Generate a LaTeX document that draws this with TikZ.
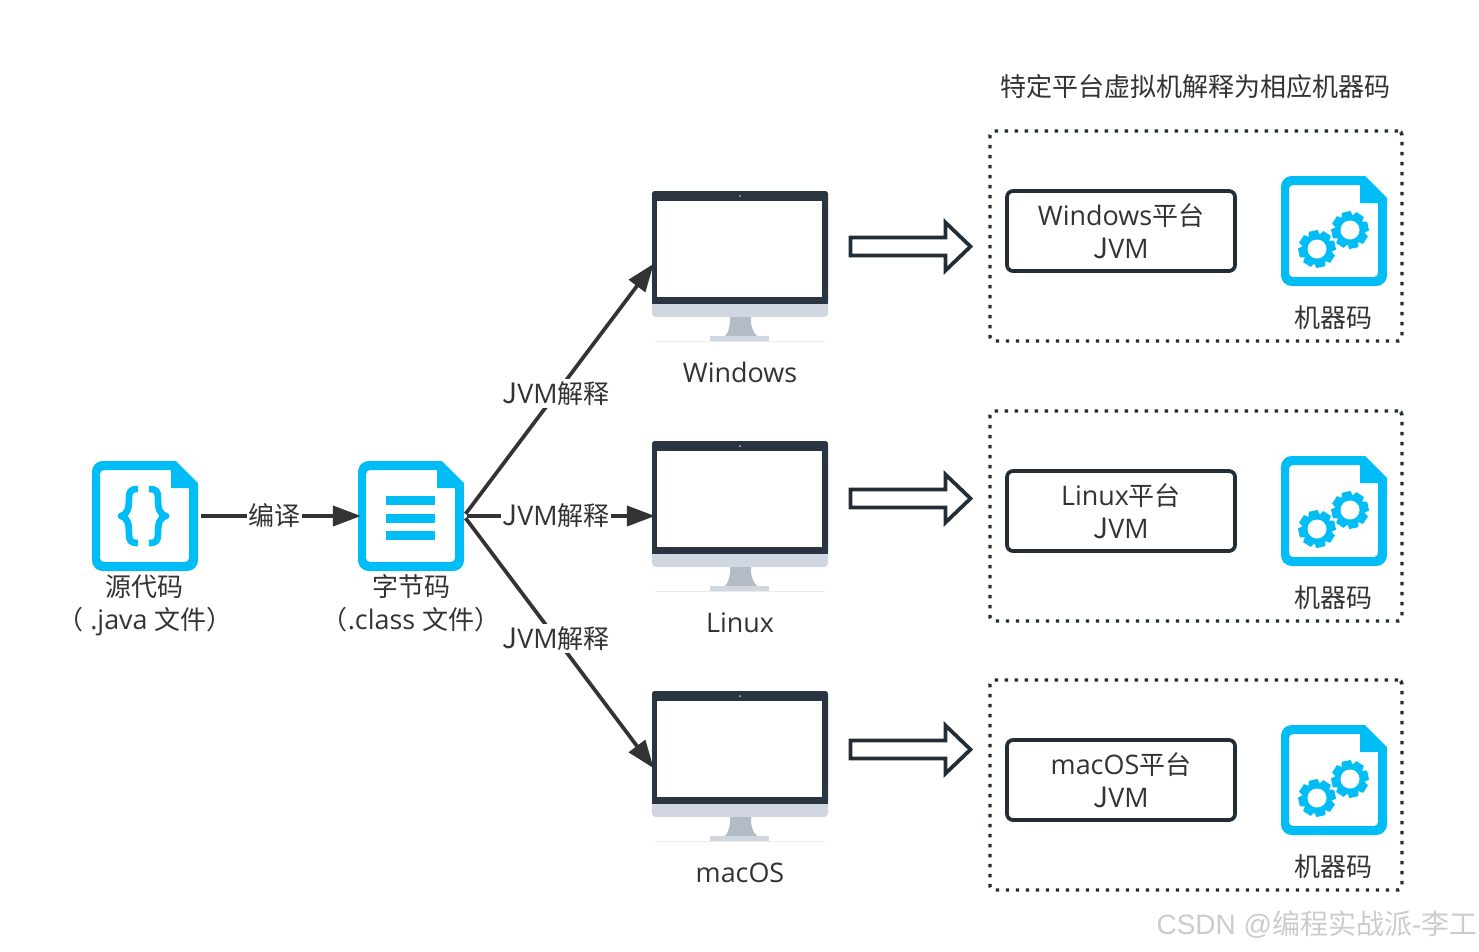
\documentclass[tikz,border=0pt]{standalone}
\usepackage{fontspec}
\usetikzlibrary{arrows.meta}
\setmainfont[Scale=1.035]{Open Sans}
\newfontfamily\cjkfont{Noto Sans CJK SC}
\newfontfamily\markfont{Liberation Sans}
\newcommand{\zh}[1]{{\cjkfont #1}}
\newcommand{\jvm}{{\cjkfont\fontsize{21}{24.75}\selectfont J}VM}
\definecolor{iconblue}{HTML}{00BEF5}
\definecolor{inkdark}{HTML}{333333}
\definecolor{framedark}{HTML}{2B3441}
\definecolor{chinpale}{HTML}{D0D7E0}
\definecolor{standgrey}{HTML}{B3BCC4}
\definecolor{outline}{HTML}{232D36}
\tikzset{
  x=0.75pt, y=-0.75pt,
  label text/.style={text=inkdark, align=center, inner sep=0pt,
    font=\fontsize{19.5}{24.75}\selectfont},
  gap label/.style={label text, fill=white, inner xsep=1pt, inner ysep=2pt},
  icon slot/.style={minimum width=79.5pt, minimum height=82.5pt, inner sep=0pt, outer sep=0pt},
  monitor slot/.style={minimum width=132pt, minimum height=112.5pt, inner sep=0pt, outer sep=0pt},
  vm box/.style={label text, draw=outline, line width=2.8pt, rounded corners=4.5pt,
    minimum width=171pt, minimum height=60pt, fill=white},
  platform box/.style={draw=outline, line width=2.6pt, dash pattern=on 2.6pt off 4.9pt,
    rounded corners=3pt, minimum width=309pt, minimum height=157.5pt, inner sep=0pt},
  flow/.style={draw=inkdark, line width=2.8pt, shorten >=-2.2pt,
    -{Triangle[length=21pt,width=15pt]}},
  hollow arrow/.style={draw=outline, line width=2.8pt, fill=white, miter limit=10},
}
% document outline with folded corner, centred on the given point
\newcommand{\docshell}[2]{%
  \begin{scope}[shift={(#1,#2)}]
    \fill[iconblue, even odd rule]
      (31,-55) -- (53,-33) [rounded corners=8pt] -- (53,55) -- (-53,55) -- (-53,-55) [sharp corners] -- cycle
      (26,-46) -- (26,-28) -- (44,-28) [rounded corners=3pt] -- (44,46) -- (-45,46) -- (-45,-46) [sharp corners] -- cycle;
  \end{scope}}
% one cog wheel
\newcommand{\cog}[2]{%
  \begin{scope}[shift={(#1,#2)}]
    \foreach \a in {0,45,...,315} {
      \fill[iconblue, rotate=\a+12] (-4.5,-18.5) -- (4.5,-18.5) -- (6,-12) -- (-6,-12) -- cycle;
    }
    \fill[iconblue] (0,0) circle[radius=14.5];
    \fill[white] (0,0) circle[radius=9.5];
  \end{scope}}
% document holding two cog wheels
\newcommand{\machinefile}[2]{%
  \docshell{#1}{#2}
  \begin{scope}[shift={(#1,#2)}]
    \cog{-17}{18}
    \cog{16}{-1}
  \end{scope}}
% desktop monitor, centred on the given point
\newcommand{\monitor}[2]{%
  \begin{scope}[shift={(#1,#2)}]
    \fill[framedark, rounded corners=2pt] (-88,-75) rectangle (88,38);
    \fill[chinpale, rounded corners=3pt] (-88,30) rectangle (88,51);
    \fill[framedark] (-88,30) rectangle (88,37.5);
    \fill[white] (-83,-65) rectangle (82,31);
    \fill[standgrey] (-10,51) -- (11,51) -- (11,57) .. controls (12,63) and (14,67) .. (17,70)
      -- (-15,70) .. controls (-12,67) and (-11,63) .. (-10,57) -- cycle;
    \fill[chinpale] (-30,70) rectangle (29,75);
    \fill[black!8] (-85,74.5) rectangle (85,75);
    \fill[standgrey] (0,-70) circle[radius=1];
  \end{scope}}
% wide outlined arrow pointing right
\newcommand{\widearrow}[2]{%
  \draw[hollow arrow, shift={(#1,#2)}]
    (0,-9) -- (95,-9) -- (95,-24) -- (120,0) -- (95,24) -- (95,9) -- (0,9) -- cycle;}

\begin{document}
\begin{tikzpicture}
  \useasboundingbox (0,0) rectangle (1479,951);
  \fill[white] (0,0) rectangle (1479,951);

  % source and bytecode
  \node[icon slot] (src) at (145,516) {};
  \node[icon slot] (bytecode) at (411,516) {};
  \docshell{145}{516}
  \docshell{411}{516}
  \draw[iconblue, line width=5pt, line cap=butt, line join=round]
    (138,489) .. controls (130,489) and (129,492) .. (129,498)
    .. controls (129,508) and (128,514) .. (121,516)
    .. controls (128,518) and (129,524) .. (129,534)
    .. controls (129,540) and (130,543) .. (138,543);
  \draw[iconblue, line width=5pt, line cap=butt, line join=round]
    (149,489) .. controls (157,489) and (158,492) .. (158,498)
    .. controls (158,508) and (159,514) .. (166,516)
    .. controls (159,518) and (158,524) .. (158,534)
    .. controls (158,540) and (157,543) .. (149,543);
  \fill[iconblue] (386,496) rectangle (435,505);
  \fill[iconblue] (386,514) rectangle (435,523);
  \fill[iconblue] (386,531) rectangle (435,540);
  \node[label text] (srctext) at (145,605) {\zh{源代码}\\\zh{（} .java \zh{文件）}};
  \node[label text] (bytetext) at (411,603.5) {\zh{字节码}\\\zh{（}.class \zh{文件）}};

  % monitors
  \node[monitor slot] (win) at (740,266) {};
  \node[monitor slot] (lin) at (740,516) {};
  \node[monitor slot] (mac) at (740,766) {};
  \monitor{740}{266}
  \monitor{740}{516}
  \monitor{740}{766}
  \node[label text] (wintext) at (740,372.5) {Windows};
  \node[label text] (lintext) at (740,622.5) {Linux};
  \node[label text] (mactext) at (740,872.5) {macOS};

  % connectors
  \draw[flow, shorten <=2pt] (src.east) -- (bytecode.west)
    node[gap label, pos=0.48] (compile) {\zh{编译}};
  \draw[flow, shorten <=2pt] (bytecode.east) -- (win.west)
    node[gap label, pos=0.49] (jvmA) {\jvm\zh{解释}};
  \draw[flow, shorten <=2pt] (bytecode.east) -- (lin.west)
    node[gap label, pos=0.49] (jvmB) {\jvm\zh{解释}};
  \draw[flow, shorten <=2pt] (bytecode.east) -- (mac.west)
    node[gap label, pos=0.49] (jvmC) {\jvm\zh{解释}};

  % wide arrows
  \widearrow{850.5}{246.5}
  \widearrow{850.5}{498.5}
  \widearrow{850.5}{749.5}

  % platform panels
  \node[label text] (title) at (1195,87) {\zh{特定平台虚拟机解释为相应机器码}};

  \node[platform box] (boxA) at (1196,236) {};
  \node[platform box] (boxB) at (1196,516) {};
  \node[platform box] (boxC) at (1196,785) {};

  \node[vm box] (vmA) at (1121,231) {Windows\zh{平台}\\\jvm};
  \node[vm box] (vmB) at (1121,511) {Linux\zh{平台}\\\jvm};
  \node[vm box] (vmC) at (1121,780) {macOS\zh{平台}\\\jvm};

  \machinefile{1334}{231}
  \machinefile{1334}{511}
  \machinefile{1334}{780}
  \node[label text] (codeA) at (1333.5,318) {\zh{机器码}};
  \node[label text] (codeB) at (1333.5,598) {\zh{机器码}};
  \node[label text] (codeC) at (1333.5,867) {\zh{机器码}};

  % credit line
  \node[inner sep=0pt, text=black!20, font=\markfont\fontsize{21}{24}\selectfont]
    (credit) at (1317,925) {CSDN @\zh{编程实战派}-\zh{李工}};
\end{tikzpicture}
\end{document}
